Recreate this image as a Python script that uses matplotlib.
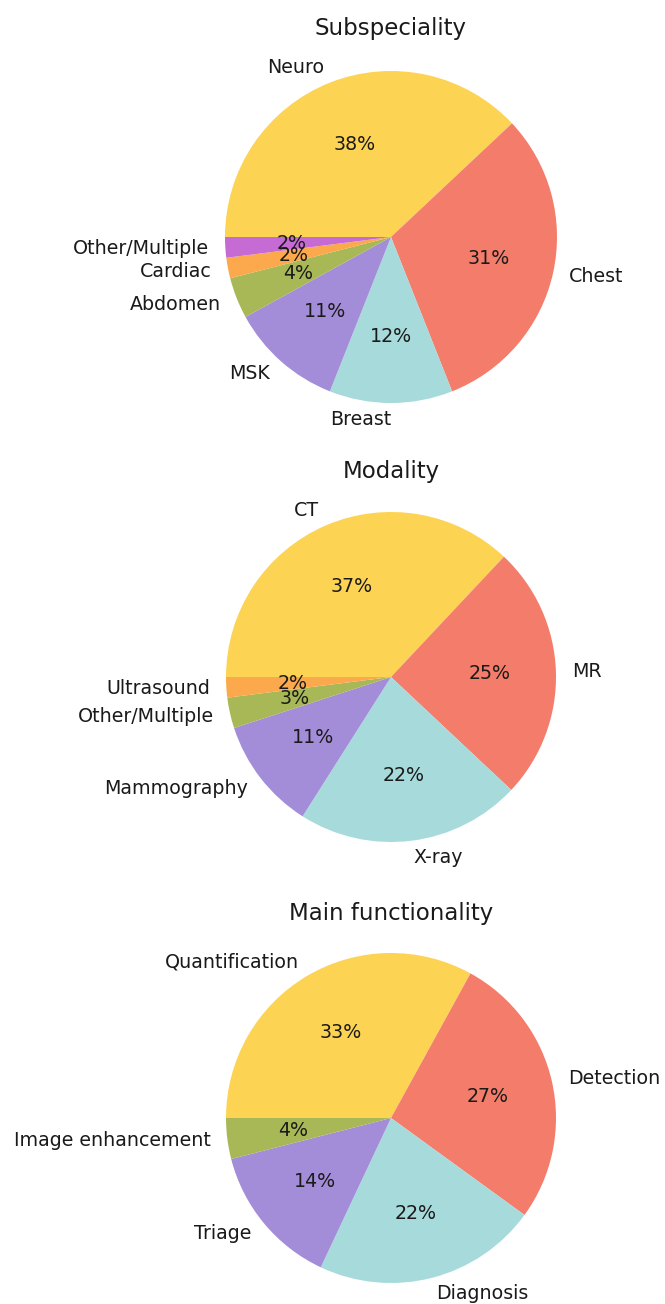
import matplotlib
matplotlib.use("Agg")
import matplotlib.pyplot as plt

plt.rcParams['font.family'] = ['DejaVu Sans']

# Data
sub_labels = ["Neuro", "Chest", "Breast", "MSK", "Abdomen", "Cardiac", "Other/Multiple"]
sub_values = [38, 31, 12, 11, 4, 2, 2]

mod_labels = ["CT", "MR", "X-ray", "Mammography", "Other/Multiple", "Ultrasound"]
mod_values = [37, 25, 22, 11, 3, 2]

fun_labels = ["Quantification", "Detection", "Diagnosis", "Triage", "Image enhancement"]
fun_values = [33, 27, 22, 14, 4]

titles = ["Subspeciality", "Modality", "Main functionality"]

colors = ["#FDD353", "#F47C6B", "#A7DADB", "#A38CD8", "#A9B856", "#FBA94C", "#C66BD3"]

W, H = 665, 1304
fig = plt.figure(figsize=(W / 100, H / 100), dpi=100)

# (center_x px, center_y px from top, radius px, title baseline px from top)
layout = [(391, 237, 166, 35), (391, 677, 165, 478), (391, 1118, 165, 920)]
datasets = [(sub_labels, sub_values), (mod_labels, mod_values), (fun_labels, fun_values)]

for (cx, cy, r, tb), (labels, values), title in zip(layout, datasets, titles):
    half = 1.25 * r
    ax = fig.add_axes([(cx - half) / W, 1 - (cy + half) / H, 2 * half / W, 2 * half / H])
    ax.pie(values, labels=labels, colors=colors[:len(values)], startangle=180,
           counterclock=False, autopct='%1.0f%%', pctdistance=0.6, labeldistance=1.1,
           textprops={'fontsize': 13.7, 'color': '#1a1a1a'})
    ax.set_xlim(-1.25, 1.25)
    ax.set_ylim(-1.25, 1.25)
    ax.set_aspect('auto')
    ax.text(0, (cy - tb) / r, title, ha='center', va='baseline', fontsize=16.5,
            color='#1a1a1a', clip_on=False)

fig.savefig("out.png", dpi=100)
